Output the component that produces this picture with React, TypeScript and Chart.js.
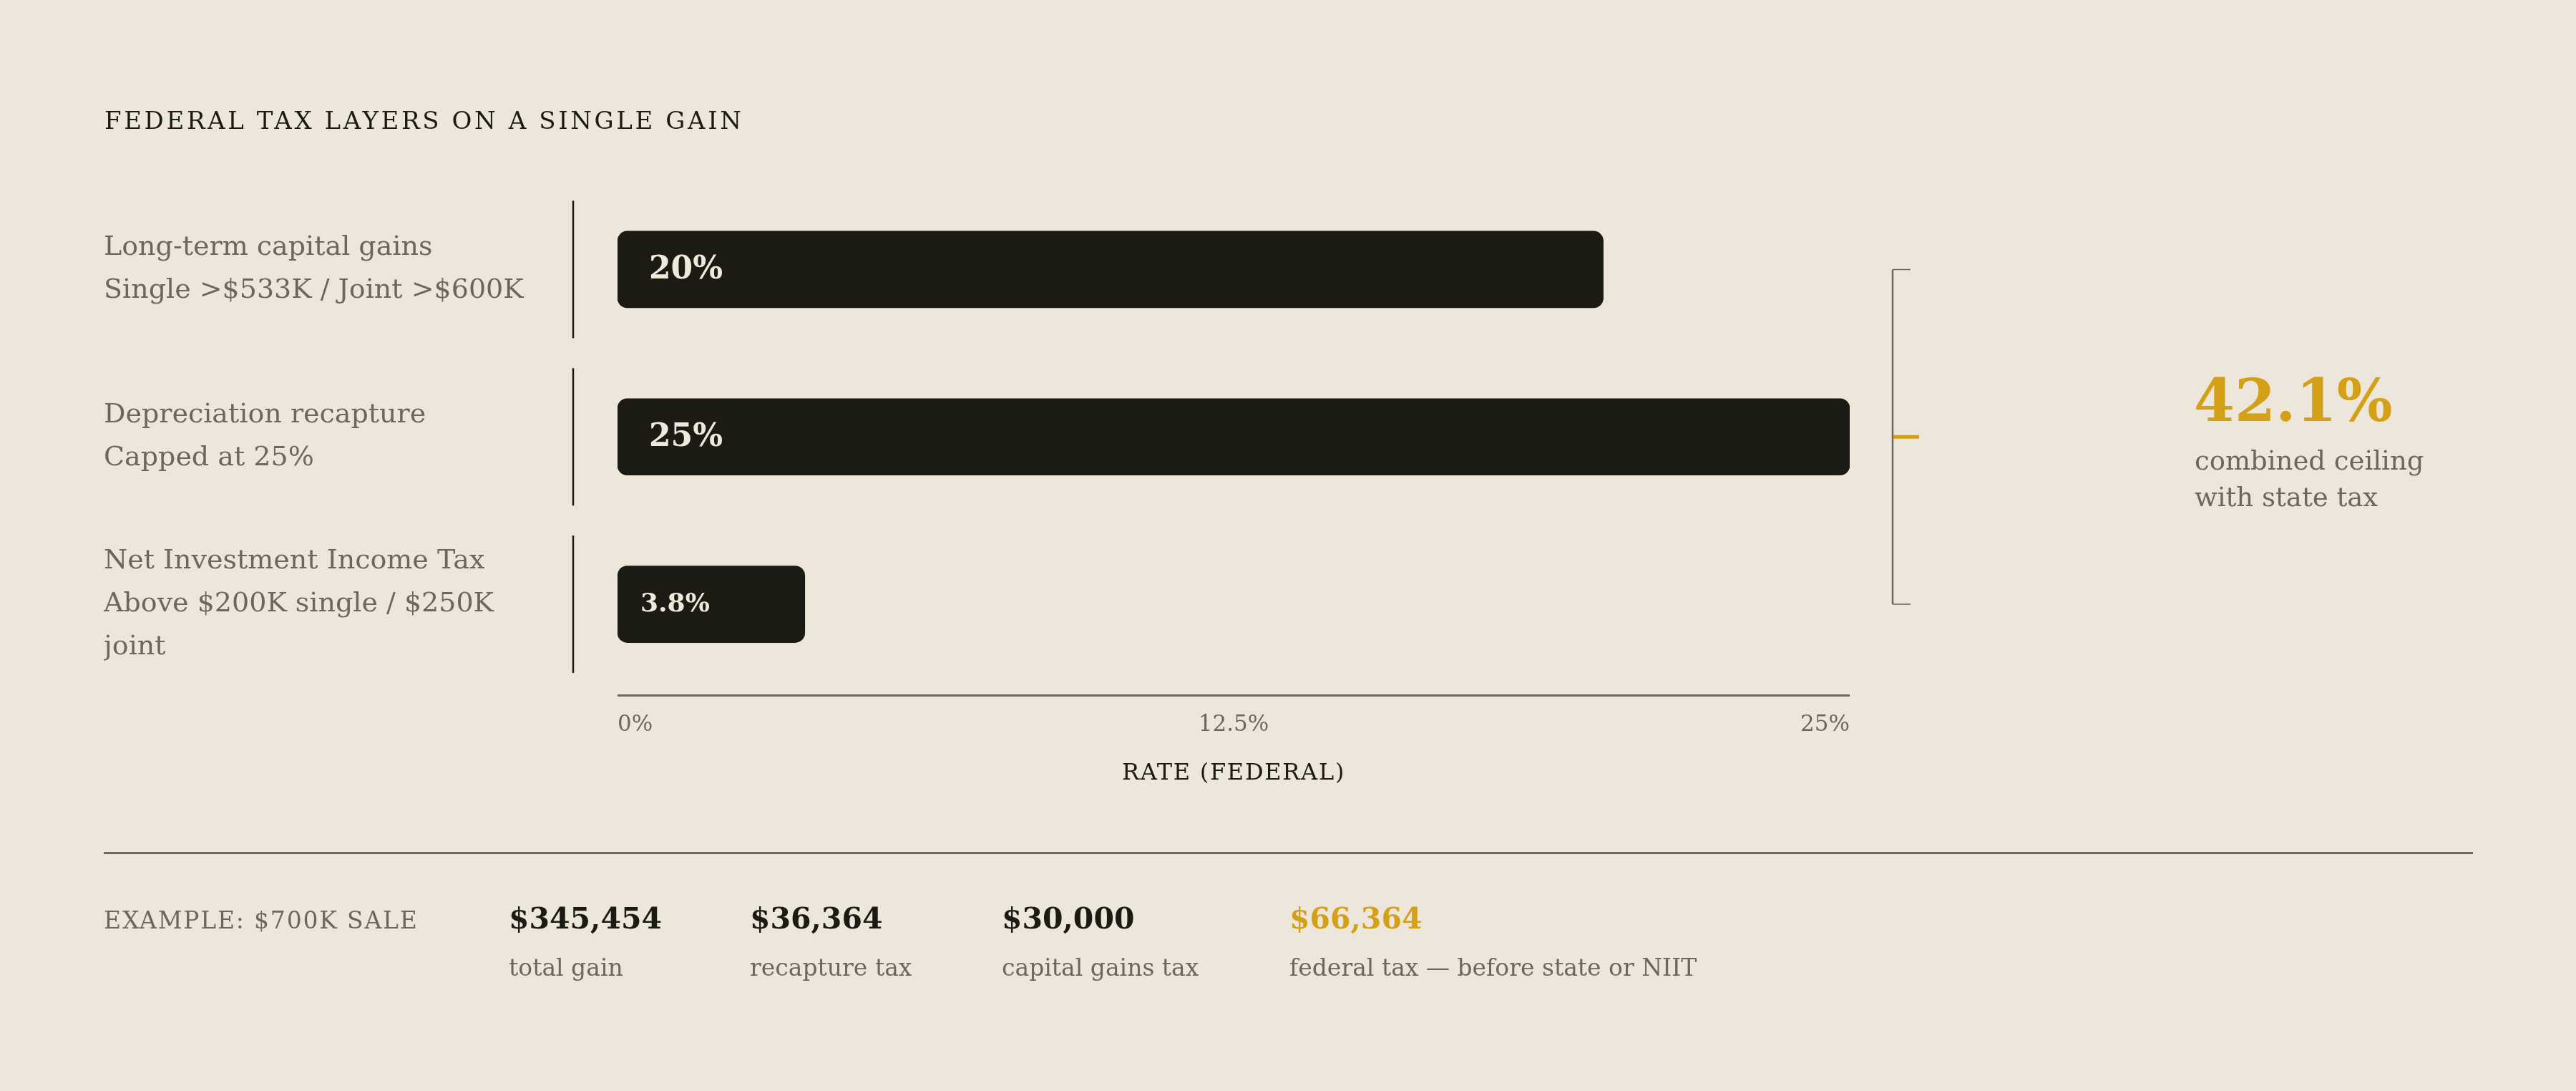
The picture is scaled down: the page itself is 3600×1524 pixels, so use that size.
import React, { useEffect, useRef } from 'react';
import { Chart, registerables } from 'chart.js';

Chart.register(...registerables);

// ---------- data ----------
const categories: string[][] = [
  ['Long-term capital gains', 'Single >$533K / Joint >$600K'],
  ['Depreciation recapture', 'Capped at 25%'],
  ['Net Investment Income Tax', 'Above $200K single / $250K', 'joint'],
];
const rates = [20, 25, 3.8];
const rateLabels = ['20%', '25%', '3.8%'];
const xTicks = [0, 12.5, 25];
const xTickLabels = ['0%', '12.5%', '25%'];
const axisTitle = 'RATE (FEDERAL)';
const chartTitle = 'FEDERAL TAX LAYERS ON A SINGLE GAIN';
const combinedValue = '42.1%';
const combinedNote = ['combined ceiling', 'with state tax'];
const exampleLabel = 'EXAMPLE: $700K SALE';
const exampleValues = ['$345,454', '$36,364', '$30,000', '$66,364'];
const exampleNotes = ['total gain', 'recapture tax', 'capital gains tax', 'federal tax \u2014 before state or NIIT'];

// ---------- style ----------
const BG = '#ede7db';
const DARK = '#1b1b14';
const GREY = '#6b675c';
const GOLD = '#d4a017';
const CREAM = '#efe9dc';
const FONT = '"DejaVu Serif", serif';

const decor = {
  id: 'decor',
  beforeDatasetsDraw(chart: any) {
    const { ctx, chartArea } = chart;
    const meta = chart.getDatasetMeta(0);
    ctx.save();
    // row separators
    ctx.strokeStyle = DARK;
    ctx.lineWidth = 2.5;
    const sx = chartArea.left - 62;
    meta.data.forEach((bar: any) => {
      ctx.beginPath();
      ctx.moveTo(sx, bar.y - 96);
      ctx.lineTo(sx, bar.y + 96);
      ctx.stroke();
    });
    // axis line
    ctx.strokeStyle = GREY;
    ctx.lineWidth = 3;
    ctx.beginPath();
    ctx.moveTo(chartArea.left, chartArea.bottom + 10.5);
    ctx.lineTo(chartArea.right, chartArea.bottom + 10.5);
    ctx.stroke();
    ctx.restore();
  },
  afterDatasetsDraw(chart: any) {
    const { ctx, chartArea } = chart;
    const meta = chart.getDatasetMeta(0);
    ctx.save();
    // bar labels
    ctx.fillStyle = CREAM;
    ctx.textBaseline = 'middle';
    ctx.textAlign = 'left';
    meta.data.forEach((bar: any, i: number) => {
      const w = bar.x - bar.base;
      const small = w < 400;
      ctx.font = `bold ${small ? 36 : 44}px ${FONT}`;
      ctx.fillText(rateLabels[i], bar.base + (small ? 32 : 44), bar.y + 1);
    });
    // bracket
    const bx = chartArea.right + 60;
    const top = meta.data[0].y;
    const bot = meta.data[meta.data.length - 1].y;
    const mid = meta.data[1].y;
    ctx.strokeStyle = GREY;
    ctx.lineWidth = 2.5;
    ctx.beginPath();
    ctx.moveTo(bx, top);
    ctx.lineTo(bx, bot);
    ctx.stroke();
    ctx.lineWidth = 1.5;
    ctx.beginPath();
    ctx.moveTo(bx, top);
    ctx.lineTo(bx + 25, top);
    ctx.moveTo(bx, bot);
    ctx.lineTo(bx + 25, bot);
    ctx.stroke();
    ctx.strokeStyle = GOLD;
    ctx.lineWidth = 5;
    ctx.beginPath();
    ctx.moveTo(bx + 1, mid);
    ctx.lineTo(bx + 37, mid);
    ctx.stroke();
    ctx.restore();
  },
  afterLayout(chart: any) {
    const s = chart.scales.x;
    if (s && !s.__ls) {
      s.__ls = true;
      const orig = s.drawTitle;
      s.drawTitle = function () {
        const c = this.ctx;
        c.save();
        try { c.letterSpacing = '1.7px'; } catch (e) {}
        orig.call(this);
        c.restore();
      };
    }
  },
};

type TProps = {
  x: number; base: number; size: number; weight?: number; color: string; ls?: number; children: React.ReactNode;
};
const T = ({ x, base, size, weight = 400, color, ls = 0, children }: TProps) => (
  <div
    style={{
      position: 'absolute',
      left: x,
      top: base - 0.846 * size,
      fontFamily: FONT,
      fontSize: size,
      lineHeight: `${size}px`,
      fontWeight: weight,
      color,
      letterSpacing: ls,
      whiteSpace: 'nowrap',
    }}
  >
    {children}
  </div>
);

export default function App() {
  const ref = useRef<HTMLCanvasElement | null>(null);

  useEffect(() => {
    if (!ref.current) return;
    const chart = new Chart(ref.current, {
      type: 'bar',
      data: {
        labels: categories,
        datasets: [
          {
            data: rates,
            backgroundColor: DARK,
            borderWidth: 0,
            borderRadius: 14,
            borderSkipped: false,
            barThickness: 107,
          },
        ],
      },
      options: {
        indexAxis: 'y',
        animation: false,
        responsive: false,
        devicePixelRatio: 1,
        layout: { padding: { left: 145, top: 259.5, right: 1015, bottom: 424 } },
        plugins: { legend: { display: false }, tooltip: { enabled: false }, title: { display: false } },
        scales: {
          x: {
            type: 'linear',
            min: xTicks[0],
            max: xTicks[xTicks.length - 1],
            grid: { display: false, drawTicks: false },
            border: { display: false },
            ticks: {
              stepSize: xTicks[1] - xTicks[0],
              align: 'inner',
              padding: 33,
              color: GREY,
              font: { family: FONT, size: 31, lineHeight: 1.2 },
              callback: (v: any) => {
                const i = xTicks.indexOf(Number(v));
                return i >= 0 ? xTickLabels[i] : '';
              },
            },
            title: {
              display: true,
              text: axisTitle,
              color: DARK,
              padding: 0,
              font: { family: FONT, size: 32, lineHeight: 1.2 },
            },
            afterFit: (s: any) => {
              s.height = 139;
            },
          },
          y: {
            type: 'category',
            grid: { display: false, drawTicks: false },
            border: { display: false },
            ticks: {
              crossAlign: 'far',
              padding: 0,
              color: GREY,
              font: { family: FONT, size: 38, lineHeight: 60 / 38 },
            },
            afterFit: (s: any) => {
              s.width = 718;
            },
          },
        },
      },
      plugins: [decor],
    } as any);
    return () => chart.destroy();
  }, []);

  return (
    <div
      style={{
        position: 'fixed',
        left: 0,
        top: 0,
        width: 3600,
        height: 1524,
        background: BG,
        overflow: 'hidden',
      }}
    >
      <canvas ref={ref} width={3600} height={1524} style={{ position: 'absolute', left: 0, top: 0, width: 3600, height: 1524 }} />
      <T x={146} base={180} size={34} color={DARK} ls={3.6}>{chartTitle}</T>
      <T x={3066} base={587} size={82} weight={700} color={GOLD}>{combinedValue}</T>
      <T x={3067} base={656} size={37} color={GREY}>{combinedNote[0]}</T>
      <T x={3067} base={707} size={37} color={GREY}>{combinedNote[1]}</T>
      <div style={{ position: 'absolute', left: 145, top: 1189.5, width: 3311, height: 3, background: GREY }} />
      <T x={145} base={1297} size={33} color={GREY} ls={1.8}>{exampleLabel}</T>
      {exampleValues.map((v, i) => (
        <T key={'v' + i} x={[711, 1048, 1400, 1802][i]} base={1298} size={41} weight={700} color={i === exampleValues.length - 1 ? GOLD : DARK}>
          {v}
        </T>
      ))}
      {exampleNotes.map((v, i) => (
        <T key={'n' + i} x={[711, 1048, 1400, 1802][i]} base={1363} size={33} color={GREY}>
          {v}
        </T>
      ))}
    </div>
  );
}
